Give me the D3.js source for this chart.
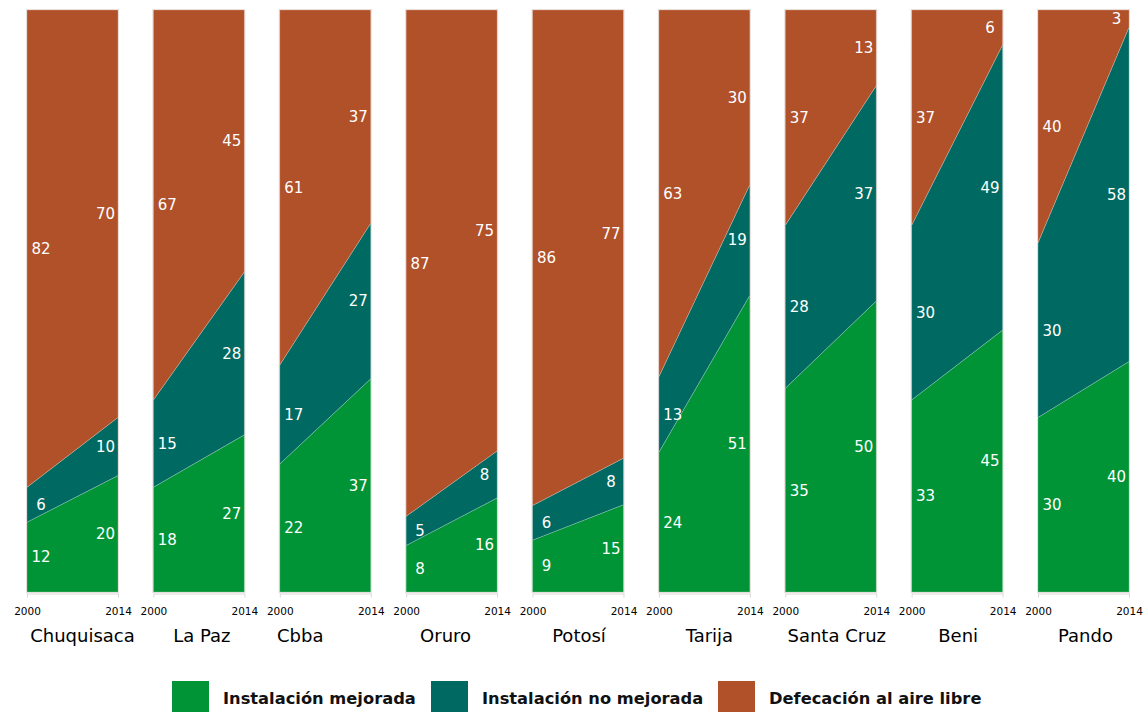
<!DOCTYPE html>
<html>
<head>
<meta charset="utf-8">
<script src="https://cdn.jsdelivr.net/npm/d3@7"></script>
<style>
  body { margin: 0; background: #fff; }
  svg { display: block; font-family: "DejaVu Sans", Verdana, sans-serif; }
</style>
</head>
<body>
<script>
// departments and the two survey years
var departments = ["Chuquisaca", "La Paz", "Cbba", "Oruro", "Potosí", "Tarija", "Santa Cruz", "Beni", "Pando"];
var years = [2000, 2014];
var seriesNames = ["Instalación mejorada", "Instalación no mejorada", "Defecación al aire libre"];
var seriesColors = ["#009436", "#006a62", "#b0512a"];

// values per department: [2000, 2014]
var mejorada   = [[12, 20], [18, 27], [22, 37], [8, 16], [9, 15], [24, 51], [35, 50], [33, 45], [30, 40]];
var noMejorada = [[6, 10], [15, 28], [17, 27], [5, 8], [6, 8], [13, 19], [28, 37], [30, 49], [30, 58]];
var aireLibre  = [[82, 70], [67, 45], [61, 37], [87, 75], [86, 77], [63, 30], [37, 13], [37, 6], [40, 3]];

// small nudges for the department names (text boxes in the original are not centred)
var labelShift = [10, 3, -25, -6, 1, 5, 6, 1, 2];

var W = 1145, H = 712;
var plotTop = 10, plotBottom = 592;

var svg = d3.select("body").append("svg")
  .attr("width", W)
  .attr("height", H);

var panelX = d3.scaleBand()
  .domain(departments)
  .range([27, 1129])
  .paddingInner(0.28)
  .paddingOuter(0);

var y = d3.scaleLinear().domain([0, 1]).range([plotBottom, plotTop]);

var stack = d3.stack()
  .keys([0, 1, 2])
  .offset(d3.stackOffsetExpand);

departments.forEach(function(dep, i) {
  var rows = years.map(function(yr, j) {
    return { year: yr, 0: mejorada[i][j], 1: noMejorada[i][j], 2: aireLibre[i][j] };
  });
  var layers = stack(rows);

  var x = d3.scaleLinear()
    .domain(d3.extent(years))
    .range([panelX(dep), panelX(dep) + panelX.bandwidth()]);

  var area = d3.area()
    .x(function(d) { return x(d.data.year); })
    .y0(function(d) { return y(d[0]); })
    .y1(function(d) { return y(d[1]); });

  var g = svg.append("g").attr("class", "panel");

  // faint frame round the plot
  g.append("rect")
    .attr("x", x.range()[0] - 0.5)
    .attr("y", plotTop - 0.5)
    .attr("width", panelX.bandwidth() + 1)
    .attr("height", plotBottom - plotTop + 1)
    .attr("fill", "none")
    .attr("stroke", "#e6dcd8")
    .attr("stroke-width", 1);

  g.selectAll("path.layer")
    .data(layers)
    .enter().append("path")
    .attr("class", "layer")
    .attr("d", area)
    .attr("fill", function(d) { return seriesColors[d.key]; })
    .attr("stroke", "rgba(255,255,255,0.35)")
    .attr("stroke-width", 0.6);

  // value labels at each end of each band
  var raw = [mejorada[i], noMejorada[i], aireLibre[i]];
  layers.forEach(function(layer) {
    layer.forEach(function(pt, j) {
      var cx = j === 0 ? x.range()[0] + 14 : x.range()[1] - 12.5;
      g.append("text")
        .attr("x", cx)
        .attr("y", y((pt[0] + pt[1]) / 2))
        .attr("dy", "0.36em")
        .attr("text-anchor", "middle")
        .attr("fill", "#fff")
        .style("font-size", "15px")
        .text(raw[layer.key][j]);
    });
  });

  // axis with the two years
  var axis = d3.axisBottom(x)
    .tickValues(years)
    .tickFormat(d3.format("d"))
    .tickSize(4)
    .tickSizeOuter(0)
    .tickPadding(10);

  var ax = g.append("g")
    .attr("transform", "translate(0," + (plotBottom + 1.5) + ")")
    .call(axis);
  ax.select(".domain").attr("stroke", "#d9d9d9");
  ax.selectAll(".tick line").attr("stroke", "#d9d9d9");
  ax.selectAll(".tick text")
    .attr("fill", "#000")
    .style("font-size", "10.5px")
    .style("font-family", "\"DejaVu Sans\", Verdana, sans-serif");

  svg.append("text")
    .attr("x", panelX(dep) + panelX.bandwidth() / 2 + labelShift[i])
    .attr("y", 642)
    .attr("text-anchor", "middle")
    .attr("fill", "#000")
    .style("font-size", "18px")
    .text(dep);
});

// legend
var legendX = [172, 431, 718];
var legend = svg.selectAll("g.legend")
  .data(seriesNames)
  .enter().append("g")
  .attr("class", "legend")
  .attr("transform", function(d, i) { return "translate(" + legendX[i] + ",681)"; });

legend.append("rect")
  .attr("width", 37)
  .attr("height", 31)
  .attr("fill", function(d, i) { return seriesColors[i]; });

legend.append("text")
  .attr("x", 51)
  .attr("y", 23)
  .attr("fill", "#111")
  .style("font-size", "16.3px")
  .style("font-weight", "bold")
  .text(function(d) { return d; });
</script>
</body>
</html>
